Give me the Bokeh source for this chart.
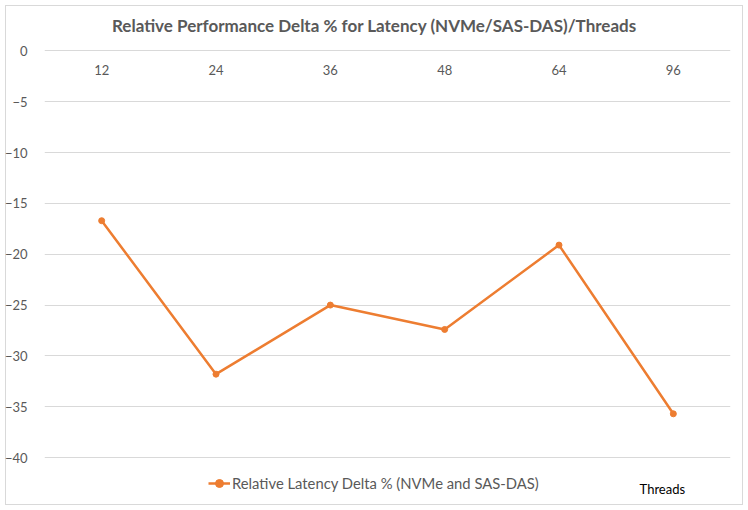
from bokeh.plotting import figure
from bokeh.models import Range1d, FixedTicker, Label, Legend, LegendItem, ColumnDataSource
from bokeh.core.properties import value
from bokeh.embed import file_html
from bokeh.resources import INLINE

threads = ["12", "24", "36", "48", "64", "96"]
latency_delta = [-16.7, -31.8, -25.0, -27.4, -19.1, -35.7]
y_ticks = [0, -5, -10, -15, -20, -25, -30, -35, -40]

title_text = "Relative Performance Delta % for Latency (NVMe/SAS-DAS)/Threads"
series_name = "Relative Latency Delta % (NVMe and SAS-DAS)"
x_title = "Threads"

FONT = "Lato"
GREY = "#595959"
ORANGE = "#ED7D31"

idx = list(range(len(threads)))
src = ColumnDataSource(dict(x=idx, y=latency_delta, lab=threads, zero=[0] * len(threads)))

p = figure(width=748, height=510, output_backend="svg", toolbar_location=None,
           x_range=Range1d(-0.5, len(threads) - 0.5), y_range=Range1d(-45.215, 4.969),
           min_border_left=44, min_border_right=18, min_border_top=0, min_border_bottom=0)
p.outline_line_color = None
p.background_fill_color = None
p.border_fill_color = None
p.styles = {"background-color": "#FFFFFF",
            "box-shadow": "inset 0 0 0 5px #FFFFFF, inset 0 0 0 6px #D9D9D9"}

p.xaxis.visible = False
p.xgrid.visible = False
p.yaxis.ticker = FixedTicker(ticks=y_ticks)
p.yaxis.axis_line_color = None
p.yaxis.major_tick_line_color = None
p.yaxis.minor_tick_line_color = None
p.yaxis.major_label_standoff = 11
p.yaxis.major_label_text_font = FONT
p.yaxis.major_label_text_font_size = "13px"
p.yaxis.major_label_text_color = GREY
p.ygrid.ticker = FixedTicker(ticks=y_ticks)
p.ygrid.grid_line_color = "#D9D9D9"
p.ygrid.grid_line_width = 1

# category labels just below the zero line
p.text(x="x", y="zero", text="lab", source=src, text_align="center", text_baseline="middle",
       y_offset=19, text_font=value(FONT), text_font_size="13px", text_color=GREY)

ln = p.line(x="x", y="y", source=src, line_color=ORANGE, line_width=2.5)
mk = p.scatter(x="x", y="y", source=src, size=6, fill_color=ORANGE, line_color=ORANGE)

legend = Legend(items=[LegendItem(label=series_name, renderers=[ln, mk])],
                location=(164, 17), orientation="horizontal",
                label_text_font=FONT, label_text_font_size="14.8px", label_text_color=GREY,
                glyph_width=22, glyph_height=20, label_height=20, label_standoff=2,
                padding=0, spacing=0, margin=0, border_line_color=None,
                background_fill_alpha=0)
p.add_layout(legend, "center")

title = Label(x=2.386, y=0, y_offset=25.5, text=title_text, text_align="center",
              text_baseline="middle", text_font=FONT, text_font_size="17px",
              text_font_style="bold", text_color=GREY)
p.add_layout(title)

xt = Label(x=len(threads) - 1, y=-40, x_offset=-11, y_offset=-31, text=x_title,
           text_align="center", text_baseline="middle", text_font=FONT,
           text_font_size="13px", text_color="#000000")
p.add_layout(xt)

open("out.html", "w").write(file_html(p, INLINE))
